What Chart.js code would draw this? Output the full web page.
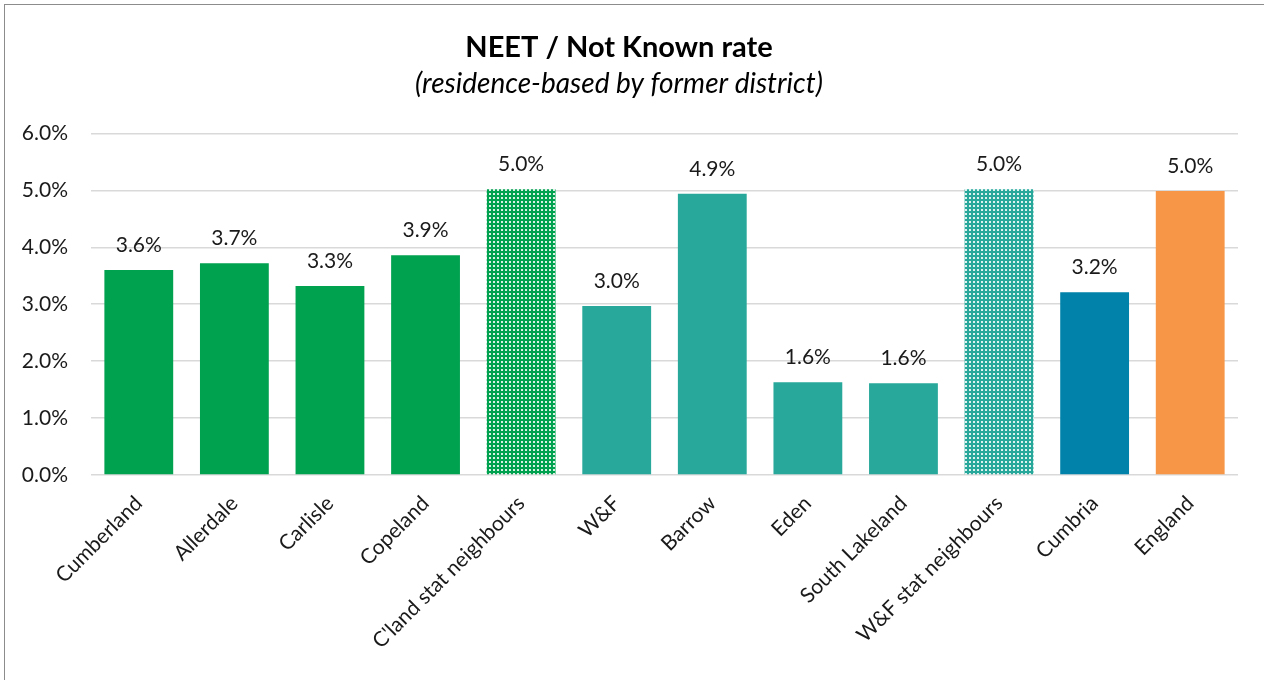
<!doctype html>
<html lang="en">

<head>
    <title>NEET / Not Known rate</title>
    <meta charset="utf-8" />
    <script src="https://cdn.jsdelivr.net/npm/chart.js@4.4.1/dist/chart.umd.min.js"></script>
    <style>
        body {
            margin: 0;
            background: #fff;
        }

        #frame {
            position: absolute;
            left: 4px;
            top: 4px;
            width: 1300px;
            height: 700px;
            border-left: 1px solid #8c8c8c;
            border-top: 1px solid #8c8c8c;
        }

        #wrap {
            position: absolute;
            left: 0;
            top: 0;
            width: 1264px;
            height: 680px;
        }
    </style>
</head>

<body>
    <div id="frame"></div>
    <div id="wrap">
        <canvas id="neetChart"></canvas>
    </div>

    <script>
        // chart values (percent)
        const areas = ['Cumberland', 'Allerdale', 'Carlisle', 'Copeland', "C'land stat neighbours",
            'W&F', 'Barrow', 'Eden', 'South Lakeland', 'W&F stat neighbours', 'Cumbria', 'England'];
        const neetRates = [3.6, 3.72, 3.32, 3.86, 5.02, 2.97, 4.94, 1.63, 1.61, 5.02, 3.21, 4.99];
        const rateLabels = ['3.6%', '3.7%', '3.3%', '3.9%', '5.0%', '3.0%', '4.9%', '1.6%', '1.6%', '5.0%', '3.2%', '5.0%'];
        const yTicks = [0, 1, 2, 3, 4, 5, 6];

        const green = '#00a14f';
        const teal = '#27a89a';
        const blue = '#0082aa';
        const orange = '#f79646';

        // dotted fill used for the stat neighbour bars
        function dotPattern(color) {
            const c = document.createElement('canvas');
            c.width = 4;
            c.height = 4;
            const g = c.getContext('2d');
            g.fillStyle = color;
            g.fillRect(0, 0, 4, 4);
            g.fillStyle = 'rgba(255,255,255,0.85)';
            g.fillRect(1, 1, 2, 2);
            return g.createPattern(c, 'repeat');
        }

        const barColours = [green, green, green, green, dotPattern(green),
            teal, teal, teal, teal, dotPattern(teal), blue, orange];

        const fontFamily = 'Lato, "Liberation Sans", sans-serif';

        // value labels above each bar
        const valueLabels = {
            id: 'valueLabels',
            afterDatasetsDraw(chart) {
                const ctx = chart.ctx;
                const meta = chart.getDatasetMeta(0);
                ctx.save();
                ctx.font = '21px ' + fontFamily;
                ctx.fillStyle = '#1a1a1a';
                ctx.textAlign = 'center';
                ctx.textBaseline = 'middle';
                meta.data.forEach((bar, i) => {
                    ctx.fillText(rateLabels[i], bar.x, bar.y - 25);
                });
                ctx.restore();
            }
        };

        const ctx = document.getElementById('neetChart').getContext('2d');
        const neetChart = new Chart(ctx, {
            type: 'bar',
            data: {
                labels: areas,
                datasets: [{
                    data: neetRates,
                    backgroundColor: barColours,
                    borderWidth: 0,
                    categoryPercentage: 1,
                    barPercentage: 0.72
                }]
            },
            plugins: [valueLabels],
            options: {
                responsive: true,
                maintainAspectRatio: false,
                animation: false,
                layout: {
                    padding: { left: 0, right: 26, top: 0, bottom: 0 }
                },
                plugins: {
                    legend: { display: false },
                    tooltip: { enabled: false },
                    title: {
                        display: true,
                        text: 'NEET / Not Known rate',
                        color: '#000',
                        font: { family: fontFamily, size: 29, weight: 'bold', lineHeight: 1.2 },
                        padding: { top: 30, bottom: 0 }
                    },
                    subtitle: {
                        display: true,
                        text: '(residence-based by former district)',
                        color: '#000',
                        font: { family: fontFamily, size: 28, style: 'italic', lineHeight: 1.2 },
                        padding: { top: 2, bottom: 33 }
                    }
                },
                scales: {
                    x: {
                        grid: { display: false },
                        border: { display: false },
                        ticks: {
                            color: '#1a1a1a',
                            font: { family: fontFamily, size: 21 },
                            minRotation: 45,
                            maxRotation: 45,
                            autoSkip: false,
                            padding: 8
                        },
                        afterFit(scale) {
                            scale.height = 205;
                        }
                    },
                    y: {
                        min: 0,
                        max: 6,
                        border: { display: false },
                        grid: { color: '#d9d9d9', lineWidth: 1.5, drawTicks: false },
                        afterBuildTicks(scale) {
                            scale.ticks = yTicks.map(v => ({ value: v }));
                        },
                        ticks: {
                            color: '#1a1a1a',
                            font: { family: fontFamily, size: 21 },
                            padding: 23,
                            callback: v => v.toFixed(1) + '%'
                        },
                        afterFit(scale) {
                            scale.width = 91;
                        }
                    }
                }
            }
        });
    </script>
</body>

</html>
